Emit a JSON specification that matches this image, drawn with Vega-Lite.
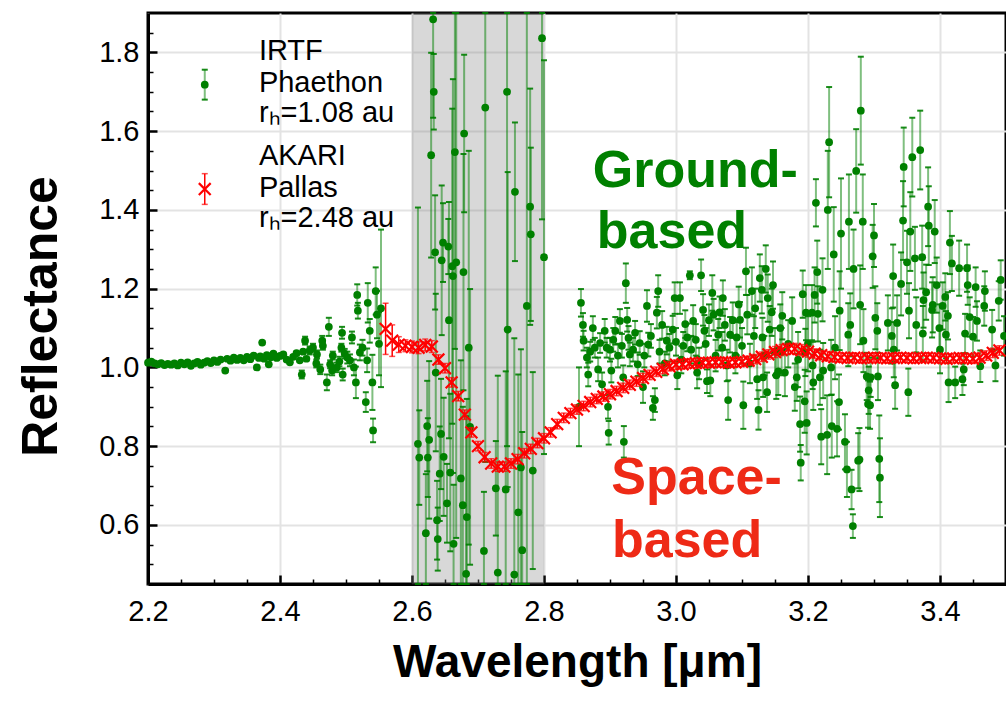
{
"$schema": "https://vega.github.io/schema/vega-lite/v6.json",
"width": 858, "height": 571,
"autosize": {"type": "none"},
"padding": {"left": 148, "top": 13, "right": 0, "bottom": 122},
"background": "white",
"config": {"view": {"stroke": "black", "strokeWidth": 3}, "font": "Liberation Sans"},
"datasets": {
"band": [{"w": 2.6, "w2": 2.8, "r": 0.45, "r2": 1.9}],
"legG": [{"w": 2.286, "r": 1.718, "e": 0.038}],
"legR": [{"w": 2.286, "r": 1.453, "e": 0.039}],
"notes": [
{"kind": "legend", "w": 2.368, "r": 1.804, "t": "IRTF"},
{"kind": "legend", "w": 2.368, "r": 1.723, "t": "Phaethon"},
{"kind": "legend", "w": 2.368, "r": 1.647, "t": "rₕ=1.08 au"},
{"kind": "legend", "w": 2.368, "r": 1.537, "t": "AKARI"},
{"kind": "legend", "w": 2.368, "r": 1.456, "t": "Pallas"},
{"kind": "legend", "w": 2.368, "r": 1.380, "t": "rₕ=2.48 au"},
{"kind": "ground", "w": 2.874, "r": 1.499, "t": "Ground-"},
{"kind": "ground", "w": 2.880, "r": 1.345, "t": "based"},
{"kind": "space", "w": 2.902, "r": 0.718, "t": "Space-"},
{"kind": "space", "w": 2.903, "r": 0.559, "t": "based"}
],
"akari": [
{"w":2.56,"r":1.098,"e":0.065},{"w":2.57,"r":1.068,"e":0.04},{"w":2.58,"r":1.058,"e":0.02},{"w":2.59,"r":1.055,"e":0.015},{"w":2.60,"r":1.052,"e":0.015},{"w":2.61,"r":1.050,"e":0.015},{"w":2.62,"r":1.057,"e":0.015},{"w":2.63,"r":1.053,"e":0.015},{"w":2.64,"r":1.020,"e":0.012},{"w":2.65,"r":0.998,"e":0.012},{"w":2.66,"r":0.962,"e":0.012},{"w":2.67,"r":0.927,"e":0.012},{"w":2.68,"r":0.880,"e":0.012},{"w":2.69,"r":0.835,"e":0.012},{"w":2.70,"r":0.800,"e":0.012},{"w":2.71,"r":0.772,"e":0.012},{"w":2.72,"r":0.756,"e":0.012},{"w":2.73,"r":0.748,"e":0.012},{"w":2.74,"r":0.748,"e":0.012},{"w":2.75,"r":0.756,"e":0.012},{"w":2.76,"r":0.767,"e":0.012},{"w":2.77,"r":0.782,"e":0.012},{"w":2.78,"r":0.793,"e":0.012},{"w":2.79,"r":0.808,"e":0.012},{"w":2.80,"r":0.820,"e":0.012},{"w":2.81,"r":0.835,"e":0.012},{"w":2.82,"r":0.856,"e":0.012},{"w":2.83,"r":0.872,"e":0.012},{"w":2.84,"r":0.884,"e":0.012},{"w":2.85,"r":0.893,"e":0.012},{"w":2.86,"r":0.902,"e":0.012},{"w":2.87,"r":0.912,"e":0.012},{"w":2.88,"r":0.920,"e":0.012},{"w":2.89,"r":0.926,"e":0.012},{"w":2.90,"r":0.932,"e":0.012},{"w":2.91,"r":0.940,"e":0.012},{"w":2.92,"r":0.948,"e":0.012},{"w":2.93,"r":0.956,"e":0.012},{"w":2.94,"r":0.964,"e":0.012},{"w":2.95,"r":0.973,"e":0.012},{"w":2.96,"r":0.981,"e":0.012},{"w":2.97,"r":0.989,"e":0.012},{"w":2.98,"r":0.996,"e":0.012},{"w":2.99,"r":1.003,"e":0.012},{"w":3.00,"r":1.007,"e":0.012},{"w":3.01,"r":1.008,"e":0.012},{"w":3.02,"r":1.010,"e":0.012},{"w":3.03,"r":1.011,"e":0.012},{"w":3.04,"r":1.012,"e":0.012},{"w":3.05,"r":1.012,"e":0.012},{"w":3.06,"r":1.013,"e":0.012},{"w":3.07,"r":1.013,"e":0.012},{"w":3.08,"r":1.012,"e":0.012},{"w":3.09,"r":1.013,"e":0.012},{"w":3.10,"r":1.014,"e":0.012},{"w":3.11,"r":1.017,"e":0.012},{"w":3.12,"r":1.021,"e":0.012},{"w":3.13,"r":1.027,"e":0.012},{"w":3.14,"r":1.033,"e":0.012},{"w":3.15,"r":1.039,"e":0.014},{"w":3.16,"r":1.044,"e":0.014},{"w":3.17,"r":1.047,"e":0.014},{"w":3.18,"r":1.047,"e":0.014},{"w":3.19,"r":1.044,"e":0.014},{"w":3.20,"r":1.040,"e":0.014},{"w":3.21,"r":1.035,"e":0.012},{"w":3.22,"r":1.031,"e":0.012},{"w":3.23,"r":1.028,"e":0.012},{"w":3.24,"r":1.026,"e":0.012},{"w":3.25,"r":1.025,"e":0.012},{"w":3.26,"r":1.024,"e":0.012},{"w":3.27,"r":1.025,"e":0.012},{"w":3.28,"r":1.023,"e":0.012},{"w":3.29,"r":1.024,"e":0.012},{"w":3.30,"r":1.025,"e":0.012},{"w":3.31,"r":1.024,"e":0.012},{"w":3.32,"r":1.023,"e":0.012},{"w":3.33,"r":1.024,"e":0.012},{"w":3.34,"r":1.025,"e":0.012},{"w":3.35,"r":1.024,"e":0.012},{"w":3.36,"r":1.023,"e":0.012},{"w":3.37,"r":1.024,"e":0.012},{"w":3.38,"r":1.025,"e":0.012},{"w":3.39,"r":1.024,"e":0.012},{"w":3.40,"r":1.023,"e":0.012},{"w":3.41,"r":1.022,"e":0.012},{"w":3.42,"r":1.023,"e":0.012},{"w":3.43,"r":1.024,"e":0.012},{"w":3.44,"r":1.023,"e":0.012},{"w":3.45,"r":1.022,"e":0.012},{"w":3.46,"r":1.025,"e":0.012},{"w":3.47,"r":1.030,"e":0.012},{"w":3.48,"r":1.037,"e":0.012},{"w":3.49,"r":1.043,"e":0.012}
],
"irtf": [
{"w":2.200,"r":1.012,"e":0.004},{"w":2.205,"r":1.015,"e":0.004},{"w":2.210,"r":1.010,"e":0.004},{"w":2.215,"r":1.008,"e":0.004},{"w":2.220,"r":1.011,"e":0.004},{"w":2.225,"r":1.006,"e":0.004},{"w":2.230,"r":1.009,"e":0.004},{"w":2.235,"r":1.007,"e":0.004},{"w":2.240,"r":1.010,"e":0.004},{"w":2.245,"r":1.005,"e":0.004},{"w":2.250,"r":1.012,"e":0.004},{"w":2.255,"r":1.008,"e":0.004},{"w":2.260,"r":1.013,"e":0.004},{"w":2.265,"r":1.004,"e":0.004},{"w":2.270,"r":1.010,"e":0.004},{"w":2.275,"r":1.014,"e":0.004},{"w":2.280,"r":1.007,"e":0.004},{"w":2.285,"r":1.012,"e":0.004},{"w":2.290,"r":1.016,"e":0.004},{"w":2.295,"r":1.011,"e":0.004},{"w":2.300,"r":1.018,"e":0.004},{"w":2.305,"r":1.014,"e":0.004},{"w":2.310,"r":1.020,"e":0.004},{"w":2.317,"r":0.992,"e":0.004},{"w":2.320,"r":1.022,"e":0.004},{"w":2.325,"r":1.017,"e":0.004},{"w":2.330,"r":1.025,"e":0.004},{"w":2.335,"r":1.019,"e":0.004},{"w":2.340,"r":1.024,"e":0.004},{"w":2.345,"r":1.018,"e":0.004},{"w":2.350,"r":1.027,"e":0.004},{"w":2.355,"r":1.021,"e":0.004},{"w":2.360,"r":1.030,"e":0.004},{"w":2.365,"r":1.000,"e":0.004},{"w":2.368,"r":1.024,"e":0.004},{"w":2.370,"r":1.028,"e":0.004},{"w":2.373,"r":1.063,"e":0.004},{"w":2.376,"r":1.022,"e":0.004},{"w":2.380,"r":1.031,"e":0.004},{"w":2.383,"r":1.008,"e":0.004},{"w":2.386,"r":1.026,"e":0.004},{"w":2.390,"r":1.035,"e":0.004},{"w":2.395,"r":1.024,"e":0.004},{"w":2.400,"r":1.029,"e":0.004},{"w":2.405,"r":1.033,"e":0.004},{"w":2.410,"r":1.020,"e":0.004},{"w":2.415,"r":1.013,"e":0.004},{"w":2.420,"r":1.027,"e":0.004},{"w":2.425,"r":1.036,"e":0.004},{"w":2.430,"r":1.018,"e":0.004},{"w":2.435,"r":1.040,"e":0.004},{"w":2.440,"r":1.022,"e":0.004},
{"w":2.433,"r":0.982,"e":0.01},{"w":2.438,"r":1.068,"e":0.01},{"w":2.445,"r":1.043,"e":0.01},{"w":2.450,"r":1.050,"e":0.01},{"w":2.455,"r":1.010,"e":0.01},{"w":2.456,"r":1.033,"e":0.01},{"w":2.461,"r":0.995,"e":0.012},{"w":2.464,"r":1.068,"e":0.012},{"w":2.465,"r":1.055,"e":0.01},{"w":2.471,"r":0.962,"e":0.02},{"w":2.474,"r":1.103,"e":0.023},{"w":2.476,"r":1.008,"e":0.01},{"w":2.479,"r":0.992,"e":0.012},{"w":2.480,"r":1.030,"e":0.01},{"w":2.486,"r":1.000,"e":0.012},{"w":2.490,"r":1.015,"e":0.012},{"w":2.494,"r":1.088,"e":0.015},{"w":2.495,"r":0.982,"e":0.015},{"w":2.493,"r":1.050,"e":0.01},{"w":2.498,"r":1.035,"e":0.012},{"w":2.502,"r":1.025,"e":0.015},{"w":2.506,"r":1.018,"e":0.015},{"w":2.509,"r":1.076,"e":0.015},{"w":2.512,"r":1.000,"e":0.02},{"w":2.515,"r":0.962,"e":0.04},{"w":2.517,"r":1.184,"e":0.027},{"w":2.518,"r":1.144,"e":0.02},{"w":2.521,"r":1.038,"e":0.02},{"w":2.525,"r":1.050,"e":0.02},{"w":2.530,"r":0.912,"e":0.025},{"w":2.532,"r":1.018,"e":0.03},{"w":2.533,"r":1.164,"e":0.05},{"w":2.536,"r":1.093,"e":0.03},{"w":2.541,"r":0.840,"e":0.03},{"w":2.540,"r":0.962,"e":0.07},{"w":2.545,"r":1.194,"e":0.06},{"w":2.547,"r":1.134,"e":0.06},{"w":2.550,"r":1.060,"e":0.08},{"w":2.553,"r":1.150,"e":0.2},
{"w":2.609,"r":0.806,"e":0.6},{"w":2.611,"r":0.771,"e":0.12},{"w":2.621,"r":0.579,"e":0.15},{"w":2.623,"r":0.851,"e":0.115},{"w":2.624,"r":0.771,"e":0.1},{"w":2.626,"r":0.816,"e":0.2},{"w":2.629,"r":1.539,"e":0.26},{"w":2.632,"r":1.884,"e":0.25},{"w":2.633,"r":1.700,"e":0.096},{"w":2.635,"r":1.292,"e":0.145},{"w":2.636,"r":0.987,"e":0.2},{"w":2.638,"r":0.612,"e":0.1},{"w":2.639,"r":0.564,"e":0.08},{"w":2.642,"r":0.730,"e":0.12},{"w":2.644,"r":0.831,"e":0.14},{"w":2.645,"r":1.272,"e":0.19},{"w":2.647,"r":1.317,"e":0.1},{"w":2.648,"r":0.773,"e":0.15},{"w":2.653,"r":0.655,"e":0.1},{"w":2.655,"r":1.307,"e":0.07},{"w":2.656,"r":1.120,"e":0.3},{"w":2.658,"r":0.733,"e":0.2},{"w":2.661,"r":1.257,"e":0.4},{"w":2.662,"r":1.232,"e":0.5},{"w":2.663,"r":0.552,"e":0.15},{"w":2.665,"r":1.547,"e":0.5},{"w":2.667,"r":1.267,"e":0.7},{"w":2.674,"r":0.718,"e":0.3},{"w":2.677,"r":0.650,"e":0.25},{"w":2.678,"r":1.242,"e":0.3},{"w":2.679,"r":1.594,"e":0.2},{"w":2.682,"r":0.476,"e":0.4},{"w":2.683,"r":0.620,"e":0.3},{"w":2.686,"r":1.050,"e":0.5},{"w":2.688,"r":0.849,"e":0.35},{"w":2.709,"r":0.534,"e":0.15},{"w":2.711,"r":1.660,"e":0.9},{"w":2.727,"r":0.693,"e":0.12},{"w":2.730,"r":0.479,"e":0.5},{"w":2.742,"r":0.690,"e":0.3},{"w":2.744,"r":1.700,"e":0.9},{"w":2.745,"r":1.096,"e":0.4},{"w":2.755,"r":0.474,"e":0.6},{"w":2.756,"r":1.446,"e":0.176},{"w":2.761,"r":0.632,"e":0.35},{"w":2.765,"r":0.746,"e":0.3},{"w":2.767,"r":0.536,"e":0.3},{"w":2.774,"r":1.156,"e":0.8},{"w":2.779,"r":1.408,"e":0.3},{"w":2.780,"r":1.338,"e":0.22},{"w":2.783,"r":0.738,"e":0.25},{"w":2.797,"r":1.836,"e":0.46},{"w":2.800,"r":1.280,"e":0.5},
{"w":2.853,"r":0.900,"e":0.1},{"w":2.856,"r":1.164,"e":0.035},{"w":2.859,"r":1.108,"e":0.03},{"w":2.860,"r":1.068,"e":0.025},{"w":2.865,"r":1.025,"e":0.025},{"w":2.867,"r":0.982,"e":0.03},{"w":2.870,"r":1.040,"e":0.025},{"w":2.874,"r":1.100,"e":0.03},{"w":2.877,"r":1.050,"e":0.025},{"w":2.882,"r":0.995,"e":0.03},{"w":2.885,"r":1.062,"e":0.025},{"w":2.888,"r":0.957,"e":0.03},{"w":2.892,"r":1.093,"e":0.03},{"w":2.895,"r":1.050,"e":0.025},{"w":2.897,"r":0.900,"e":0.03},{"w":2.898,"r":0.834,"e":0.03},{"w":2.900,"r":1.045,"e":0.03},{"w":2.902,"r":0.992,"e":0.03},{"w":2.905,"r":1.070,"e":0.03},{"w":2.908,"r":1.093,"e":0.035},{"w":2.912,"r":1.030,"e":0.03},{"w":2.915,"r":1.118,"e":0.03},{"w":2.918,"r":1.055,"e":0.03},{"w":2.920,"r":0.975,"e":0.03},{"w":2.921,"r":0.811,"e":0.04},{"w":2.924,"r":1.214,"e":0.05},{"w":2.926,"r":1.121,"e":0.03},{"w":2.928,"r":1.075,"e":0.03},{"w":2.930,"r":1.033,"e":0.03},{"w":2.935,"r":1.045,"e":0.03},{"w":2.938,"r":1.088,"e":0.03},{"w":2.942,"r":1.008,"e":0.03},{"w":2.945,"r":1.062,"e":0.03},{"w":2.950,"r":0.950,"e":0.04},{"w":2.952,"r":1.030,"e":0.03},{"w":2.956,"r":1.156,"e":0.04},{"w":2.958,"r":1.058,"e":0.03},{"w":2.962,"r":1.080,"e":0.03},{"w":2.965,"r":0.897,"e":0.03},{"w":2.968,"r":0.917,"e":0.03},{"w":2.971,"r":1.139,"e":0.04},{"w":2.973,"r":1.194,"e":0.04},{"w":2.975,"r":1.040,"e":0.03},{"w":2.979,"r":1.108,"e":0.035},{"w":2.983,"r":1.010,"e":0.03},{"w":2.986,"r":1.068,"e":0.035},{"w":2.990,"r":1.050,"e":0.035},{"w":2.995,"r":1.096,"e":0.035},{"w":2.998,"r":1.176,"e":0.04},{"w":3.000,"r":1.065,"e":0.035},{"w":3.002,"r":0.980,"e":0.035},{"w":3.006,"r":1.176,"e":0.04},{"w":3.008,"r":1.020,"e":0.035},{"w":3.011,"r":1.055,"e":0.035},{"w":3.014,"r":1.110,"e":0.035},{"w":3.017,"r":1.076,"e":0.035},{"w":3.021,"r":1.234,"e":0.01},{"w":3.023,"r":1.045,"e":0.035},{"w":3.026,"r":1.118,"e":0.04},{"w":3.030,"r":1.070,"e":0.04},{"w":3.032,"r":0.987,"e":0.04},{"w":3.035,"r":1.010,"e":0.04},{"w":3.038,"r":1.234,"e":0.04},{"w":3.041,"r":1.146,"e":0.04},{"w":3.043,"r":1.093,"e":0.04},{"w":3.045,"r":1.060,"e":0.04},{"w":3.047,"r":0.965,"e":0.03},{"w":3.050,"r":1.120,"e":0.04},{"w":3.052,"r":0.967,"e":0.04},{"w":3.055,"r":1.189,"e":0.045},{"w":3.057,"r":1.134,"e":0.04},{"w":3.060,"r":1.030,"e":0.04},{"w":3.064,"r":1.083,"e":0.04},{"w":3.066,"r":1.140,"e":0.04},{"w":3.070,"r":1.050,"e":0.04},{"w":3.071,"r":1.176,"e":0.045},{"w":3.074,"r":1.108,"e":0.04},{"w":3.077,"r":1.005,"e":0.04},{"w":3.079,"r":0.917,"e":0.05},{"w":3.082,"r":1.083,"e":0.045},{"w":3.086,"r":1.120,"e":0.045},{"w":3.090,"r":1.030,"e":0.045},{"w":3.092,"r":1.076,"e":0.045},{"w":3.095,"r":1.160,"e":0.045},{"w":3.097,"r":1.121,"e":0.045},{"w":3.100,"r":1.055,"e":0.045},{"w":3.102,"r":0.904,"e":0.06},{"w":3.106,"r":1.244,"e":0.06},{"w":3.108,"r":1.134,"e":0.05},{"w":3.112,"r":1.010,"e":0.05},{"w":3.115,"r":1.194,"e":0.06},{"w":3.118,"r":1.080,"e":0.05},{"w":3.120,"r":1.150,"e":0.05},{"w":3.123,"r":0.970,"e":0.05},{"w":3.125,"r":0.892,"e":0.05},{"w":3.127,"r":1.227,"e":0.06},{"w":3.130,"r":1.197,"e":0.06},{"w":3.131,"r":1.076,"e":0.05},{"w":3.132,"r":0.975,"e":0.05},{"w":3.134,"r":1.030,"e":0.05},{"w":3.136,"r":1.250,"e":0.06},{"w":3.138,"r":0.937,"e":0.05},{"w":3.139,"r":1.176,"e":0.06},{"w":3.142,"r":1.096,"e":0.06},{"w":3.145,"r":1.140,"e":0.06},{"w":3.147,"r":1.209,"e":0.06},{"w":3.150,"r":1.040,"e":0.06},{"w":3.152,"r":0.980,"e":0.06},{"w":3.155,"r":0.990,"e":0.06},{"w":3.158,"r":1.100,"e":0.06},{"w":3.160,"r":1.040,"e":0.06},{"w":3.161,"r":1.131,"e":0.06},{"w":3.165,"r":0.987,"e":0.06},{"w":3.170,"r":1.060,"e":0.06},{"w":3.176,"r":1.118,"e":0.06},{"w":3.180,"r":0.950,"e":0.06},{"w":3.183,"r":0.975,"e":0.06},{"w":3.185,"r":1.020,"e":0.07},{"w":3.188,"r":0.856,"e":0.07},{"w":3.189,"r":0.758,"e":0.045},{"w":3.192,"r":1.186,"e":0.06},{"w":3.195,"r":0.914,"e":0.08},{"w":3.196,"r":1.038,"e":0.06},{"w":3.197,"r":1.139,"e":0.07},{"w":3.198,"r":0.859,"e":0.08},{"w":3.200,"r":1.060,"e":0.07},{"w":3.206,"r":1.139,"e":0.07},{"w":3.207,"r":1.005,"e":0.06},{"w":3.208,"r":0.962,"e":0.07},{"w":3.210,"r":1.184,"e":0.07},{"w":3.212,"r":1.418,"e":0.06},{"w":3.214,"r":1.242,"e":0.08},{"w":3.215,"r":1.136,"e":0.07},{"w":3.218,"r":0.975,"e":0.07},{"w":3.220,"r":0.824,"e":0.07},{"w":3.222,"r":1.197,"e":0.08},{"w":3.223,"r":0.992,"e":0.07},{"w":3.229,"r":0.829,"e":0.1},{"w":3.230,"r":1.400,"e":0.15},{"w":3.232,"r":1.572,"e":0.14},{"w":3.235,"r":1.000,"e":0.07},{"w":3.236,"r":0.851,"e":0.08},{"w":3.239,"r":1.287,"e":0.12},{"w":3.241,"r":1.050,"e":0.08},{"w":3.244,"r":0.844,"e":0.07},{"w":3.247,"r":0.912,"e":0.07},{"w":3.248,"r":1.144,"e":0.1},{"w":3.250,"r":1.340,"e":0.14},{"w":3.256,"r":0.811,"e":0.07},{"w":3.259,"r":0.741,"e":0.07},{"w":3.261,"r":1.083,"e":0.08},{"w":3.262,"r":1.370,"e":0.12},{"w":3.264,"r":1.108,"e":0.08},{"w":3.266,"r":0.690,"e":0.05},{"w":3.268,"r":0.597,"e":0.03},{"w":3.269,"r":1.250,"e":0.1},{"w":3.273,"r":1.499,"e":0.106},{"w":3.276,"r":0.763,"e":0.07},{"w":3.278,"r":0.766,"e":0.08},{"w":3.279,"r":1.159,"e":0.1},{"w":3.280,"r":1.652,"e":0.137},{"w":3.283,"r":1.370,"e":0.12},{"w":3.284,"r":1.068,"e":0.08},{"w":3.289,"r":0.977,"e":0.06},{"w":3.291,"r":0.907,"e":0.06},{"w":3.292,"r":0.942,"e":0.06},{"w":3.294,"r":0.904,"e":0.06},{"w":3.295,"r":0.975,"e":0.05},{"w":3.298,"r":1.282,"e":0.08},{"w":3.300,"r":1.335,"e":0.08},{"w":3.302,"r":1.126,"e":0.08},{"w":3.305,"r":1.093,"e":0.07},{"w":3.306,"r":0.977,"e":0.06},{"w":3.308,"r":0.768,"e":0.11},{"w":3.309,"r":0.720,"e":0.1},{"w":3.321,"r":1.113,"e":0.07},{"w":3.327,"r":1.080,"e":0.07},{"w":3.329,"r":1.232,"e":0.08},{"w":3.330,"r":1.045,"e":0.07},{"w":3.332,"r":0.955,"e":0.06},{"w":3.335,"r":1.113,"e":0.07},{"w":3.341,"r":1.212,"e":0.08},{"w":3.344,"r":1.373,"e":0.1},{"w":3.345,"r":1.509,"e":0.1},{"w":3.350,"r":1.267,"e":0.08},{"w":3.352,"r":0.937,"e":0.06},{"w":3.353,"r":1.144,"e":0.07},{"w":3.355,"r":1.345,"e":0.1},{"w":3.358,"r":1.534,"e":0.1},{"w":3.362,"r":1.277,"e":0.08},{"w":3.364,"r":1.108,"e":0.07},{"w":3.370,"r":1.552,"e":0.1},{"w":3.373,"r":1.280,"e":0.08},{"w":3.374,"r":1.086,"e":0.07},{"w":3.375,"r":1.171,"e":0.07},{"w":3.379,"r":1.191,"e":0.07},{"w":3.382,"r":1.408,"e":0.1},{"w":3.383,"r":1.360,"e":0.1},{"w":3.388,"r":1.146,"e":0.07},{"w":3.389,"r":1.159,"e":0.07},{"w":3.392,"r":1.345,"e":0.08},{"w":3.395,"r":1.209,"e":0.07},{"w":3.399,"r":1.100,"e":0.06},{"w":3.400,"r":1.045,"e":0.06},{"w":3.404,"r":1.156,"e":0.06},{"w":3.408,"r":1.179,"e":0.06},{"w":3.409,"r":1.083,"e":0.06},{"w":3.412,"r":1.131,"e":0.06},{"w":3.413,"r":0.962,"e":0.05},{"w":3.415,"r":1.317,"e":0.08},{"w":3.418,"r":1.264,"e":0.07},{"w":3.423,"r":0.962,"e":0.04},{"w":3.429,"r":1.252,"e":0.07},{"w":3.434,"r":0.970,"e":0.04},{"w":3.436,"r":0.995,"e":0.04},{"w":3.438,"r":1.086,"e":0.05},{"w":3.441,"r":1.252,"e":0.06},{"w":3.442,"r":1.209,"e":0.05},{"w":3.445,"r":1.128,"e":0.05},{"w":3.450,"r":1.078,"e":0.05},{"w":3.454,"r":1.204,"e":0.05},{"w":3.456,"r":1.118,"e":0.05},{"w":3.461,"r":1.003,"e":0.04},{"w":3.467,"r":1.156,"e":0.05},{"w":3.468,"r":1.194,"e":0.05},{"w":3.479,"r":1.096,"e":0.05},{"w":3.484,"r":1.005,"e":0.04},{"w":3.489,"r":1.169,"e":0.05},{"w":3.492,"r":1.222,"e":0.05},{"w":3.497,"r":1.080,"e":0.05}
]
},
"encoding": {
 "x": {"field": "w", "type": "quantitative", "scale": {"domain": [2.2, 3.5], "nice": false, "zero": false},
  "axis": {"values": [2.2,2.25,2.3,2.35,2.4,2.45,2.5,2.55,2.6,2.65,2.7,2.75,2.8,2.85,2.9,2.95,3.0,3.05,3.1,3.15,3.2,3.25,3.3,3.35,3.4,3.45,3.5],
   "labelExpr": "abs(datum.value*5 - round(datum.value*5)) < 0.01 ? format(datum.value, '.1f') : ''",
   "tickSize": {"condition": {"test": "abs(datum.value*5 - round(datum.value*5)) < 0.01", "value": -9}, "value": -5},
   "tickWidth": {"condition": {"test": "abs(datum.value*5 - round(datum.value*5)) < 0.01", "value": 2.5}, "value": 1.5},
   "tickColor": "black",
   "grid": true, "gridColor": "#e3e3e3", "gridWidth": 2,
   "gridOpacity": {"condition": {"test": "abs(datum.value*5 - round(datum.value*5)) < 0.01", "value": 1}, "value": 0},
   "domainColor": "black", "domainWidth": 3,
   "labelFontSize": 29, "labelColor": "black", "labelPadding": 22, "labelFlush": false,
   "title": "Wavelength [μm]", "titleFontSize": 46, "titleFontWeight": "bold", "titleColor": "black", "titlePadding": 14}},
 "y": {"field": "r", "type": "quantitative", "scale": {"domain": [0.45, 1.9], "nice": false, "zero": false, "clamp": true},
  "axis": {"values": [0.5,0.55,0.6,0.65,0.7,0.75,0.8,0.85,0.9,0.95,1.0,1.05,1.1,1.15,1.2,1.25,1.3,1.35,1.4,1.45,1.5,1.55,1.6,1.65,1.7,1.75,1.8,1.85],
   "labelExpr": "abs(datum.value*5 - round(datum.value*5)) < 0.01 ? format(datum.value, '.1f') : ''",
   "tickSize": {"condition": {"test": "abs(datum.value*5 - round(datum.value*5)) < 0.01", "value": -9}, "value": -5},
   "tickWidth": {"condition": {"test": "abs(datum.value*5 - round(datum.value*5)) < 0.01", "value": 2.5}, "value": 1.5},
   "tickColor": "black",
   "grid": true, "gridColor": "#e3e3e3", "gridWidth": 2,
   "gridOpacity": {"condition": {"test": "abs(datum.value*5 - round(datum.value*5)) < 0.01", "value": 1}, "value": 0},
   "domainColor": "black", "domainWidth": 3,
   "labelFontSize": 29, "labelColor": "black", "labelPadding": 18,
   "title": "Reflectance", "titleFontSize": 50, "titleFontWeight": "bold", "titleColor": "black", "titlePadding": 32, "titleY": 303}}
},
"layer": [
{"data": {"name": "band"},
 "mark": {"type": "rect", "color": "#808080", "opacity": 0.3, "stroke": "#999999", "strokeWidth": 1, "strokeOpacity": 0.5},
 "encoding": {"x2": {"field": "w2"}, "y2": {"field": "r2"}}},
{"data": {"name": "irtf"},
 "mark": {"type": "errorbar", "ticks": {"size": 6, "thickness": 2, "color": "#008000", "opacity": 0.9}, "rule": {"strokeWidth": 2, "color": "#008000", "opacity": 0.5}},
 "encoding": {"yError": {"field": "e"}}},
{"data": {"name": "irtf"},
 "mark": {"type": "point", "filled": true, "size": 60, "color": "#008000", "opacity": 1}},
{"data": {"name": "akari"},
 "mark": {"type": "errorbar", "ticks": {"size": 6, "thickness": 1.5, "color": "#ff0000"}, "rule": {"strokeWidth": 1.5, "color": "#ff0000"}},
 "encoding": {"yError": {"field": "e"}}},
{"data": {"name": "akari"},
 "mark": {"type": "point", "shape": "M-1,-1L1,1M-1,1L1,-1", "filled": false, "size": 140, "color": "#ff0000", "strokeWidth": 2.2, "opacity": 1}},
{"data": {"name": "legG"},
 "mark": {"type": "errorbar", "ticks": {"size": 6, "thickness": 2, "color": "#008000", "opacity": 0.9}, "rule": {"strokeWidth": 2, "color": "#008000", "opacity": 0.5}},
 "encoding": {"yError": {"field": "e"}}},
{"data": {"name": "legG"},
 "mark": {"type": "point", "filled": true, "size": 60, "color": "#008000", "opacity": 1}},
{"data": {"name": "legR"},
 "mark": {"type": "errorbar", "ticks": {"size": 6, "thickness": 1.5, "color": "#ff0000"}, "rule": {"strokeWidth": 1.5, "color": "#ff0000"}},
 "encoding": {"yError": {"field": "e"}}},
{"data": {"name": "legR"},
 "mark": {"type": "point", "shape": "M-1,-1L1,1M-1,1L1,-1", "filled": false, "size": 140, "color": "#ff0000", "strokeWidth": 2.2, "opacity": 1}},
{"data": {"name": "notes"},
 "transform": [{"filter": "datum.kind == 'legend'"}],
 "mark": {"type": "text", "align": "left", "baseline": "middle", "fontSize": 29, "color": "black", "font": "Liberation Sans"},
 "encoding": {"text": {"field": "t"}}},
{"data": {"name": "notes"},
 "transform": [{"filter": "datum.kind == 'ground'"}],
 "mark": {"type": "text", "align": "left", "baseline": "middle", "fontSize": 52, "fontWeight": "bold", "color": "#008000", "font": "Liberation Sans"},
 "encoding": {"text": {"field": "t"}}},
{"data": {"name": "notes"},
 "transform": [{"filter": "datum.kind == 'space'"}],
 "mark": {"type": "text", "align": "left", "baseline": "middle", "fontSize": 52, "fontWeight": "bold", "color": "#ee2a16", "font": "Liberation Sans"},
 "encoding": {"text": {"field": "t"}}}
]
}
